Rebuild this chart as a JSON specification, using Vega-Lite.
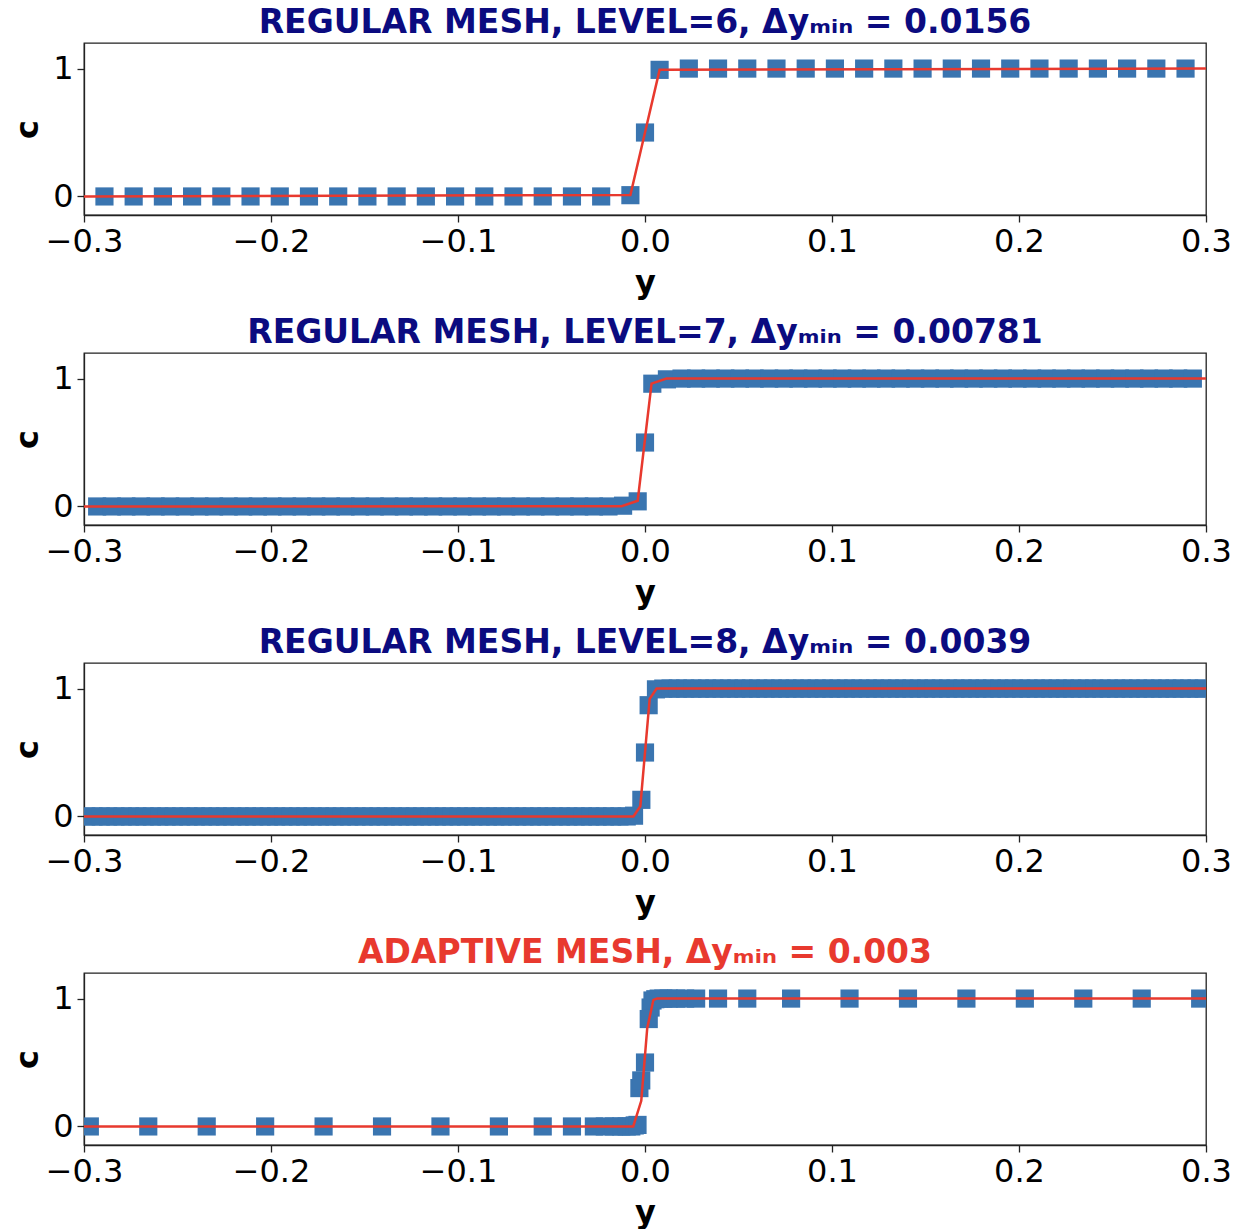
{
"$schema": "https://vega.github.io/schema/vega-lite/v6.json",
"background": "white",
"padding": {"left": 10, "top": 6, "right": 30, "bottom": 0},
"spacing": 17,
"config": {
  "font": "DejaVu Sans",
  "view": {"stroke": "#222", "strokeWidth": 1.3},
  "axis": {"labelFont": "DejaVu Sans", "labelFontSize": 32, "labelColor": "black", "tickColor": "#222", "domainColor": "#222", "tickSize": 7, "tickWidth": 1.3, "domainWidth": 1.3, "grid": false, "titleFont": "DejaVu Sans", "titleFontWeight": "bold", "titleFontSize": 32, "titleColor": "black", "labelFlush": false, "labelOverlap": false},
  "axisX": {"titlePadding": 10, "labelPadding": 4},
  "axisY": {"titlePadding": 8, "labelPadding": 4},
  "title": {"font": "DejaVu Sans", "fontSize": 33, "fontWeight": "bold", "frame": "group", "anchor": "middle", "offset": 3}
},
"datasets": {
"pts": [
{"p":1,"y":-0.28906,"c":0},{"p":1,"y":-0.27344,"c":0},{"p":1,"y":-0.25781,"c":0},{"p":1,"y":-0.24219,"c":0},{"p":1,"y":-0.22656,"c":0},{"p":1,"y":-0.21094,"c":0},{"p":1,"y":-0.19531,"c":0},{"p":1,"y":-0.17969,"c":0},{"p":1,"y":-0.16406,"c":0},{"p":1,"y":-0.14844,"c":0},{"p":1,"y":-0.13281,"c":0},{"p":1,"y":-0.11719,"c":0},{"p":1,"y":-0.10156,"c":0},{"p":1,"y":-0.08594,"c":0},{"p":1,"y":-0.07031,"c":0},{"p":1,"y":-0.05469,"c":0},{"p":1,"y":-0.03906,"c":0},{"p":1,"y":-0.02344,"c":0},{"p":1,"y":-0.00781,"c":0.01},
{"p":1,"y":0,"c":0.5},
{"p":1,"y":0.00781,"c":0.99},{"p":1,"y":0.02344,"c":1},{"p":1,"y":0.03906,"c":1},{"p":1,"y":0.05469,"c":1},{"p":1,"y":0.07031,"c":1},{"p":1,"y":0.08594,"c":1},{"p":1,"y":0.10156,"c":1},{"p":1,"y":0.11719,"c":1},{"p":1,"y":0.13281,"c":1},{"p":1,"y":0.14844,"c":1},{"p":1,"y":0.16406,"c":1},{"p":1,"y":0.17969,"c":1},{"p":1,"y":0.19531,"c":1},{"p":1,"y":0.21094,"c":1},{"p":1,"y":0.22656,"c":1},{"p":1,"y":0.24219,"c":1},{"p":1,"y":0.25781,"c":1},{"p":1,"y":0.27344,"c":1},{"p":1,"y":0.28906,"c":1},

{"p":2,"y":-0.29297,"c":0},{"p":2,"y":-0.28516,"c":0},{"p":2,"y":-0.27734,"c":0},{"p":2,"y":-0.26953,"c":0},{"p":2,"y":-0.26172,"c":0},{"p":2,"y":-0.25391,"c":0},{"p":2,"y":-0.24609,"c":0},{"p":2,"y":-0.23828,"c":0},{"p":2,"y":-0.23047,"c":0},{"p":2,"y":-0.22266,"c":0},{"p":2,"y":-0.21484,"c":0},{"p":2,"y":-0.20703,"c":0},{"p":2,"y":-0.19922,"c":0},{"p":2,"y":-0.19141,"c":0},{"p":2,"y":-0.18359,"c":0},{"p":2,"y":-0.17578,"c":0},{"p":2,"y":-0.16797,"c":0},{"p":2,"y":-0.16016,"c":0},{"p":2,"y":-0.15234,"c":0},{"p":2,"y":-0.14453,"c":0},{"p":2,"y":-0.13672,"c":0},{"p":2,"y":-0.12891,"c":0},{"p":2,"y":-0.12109,"c":0},{"p":2,"y":-0.11328,"c":0},{"p":2,"y":-0.10547,"c":0},{"p":2,"y":-0.09766,"c":0},{"p":2,"y":-0.08984,"c":0},{"p":2,"y":-0.08203,"c":0},{"p":2,"y":-0.07422,"c":0},{"p":2,"y":-0.06641,"c":0},{"p":2,"y":-0.05859,"c":0},{"p":2,"y":-0.05078,"c":0},{"p":2,"y":-0.04297,"c":0},{"p":2,"y":-0.03516,"c":0},{"p":2,"y":-0.02734,"c":0},{"p":2,"y":-0.01953,"c":0},{"p":2,"y":-0.01172,"c":0.006},{"p":2,"y":-0.00391,"c":0.04},
{"p":2,"y":0,"c":0.5},
{"p":2,"y":0.00391,"c":0.96},{"p":2,"y":0.01172,"c":0.994},{"p":2,"y":0.01953,"c":1},{"p":2,"y":0.02734,"c":1},{"p":2,"y":0.03516,"c":1},{"p":2,"y":0.04297,"c":1},{"p":2,"y":0.05078,"c":1},{"p":2,"y":0.05859,"c":1},{"p":2,"y":0.06641,"c":1},{"p":2,"y":0.07422,"c":1},{"p":2,"y":0.08203,"c":1},{"p":2,"y":0.08984,"c":1},{"p":2,"y":0.09766,"c":1},{"p":2,"y":0.10547,"c":1},{"p":2,"y":0.11328,"c":1},{"p":2,"y":0.12109,"c":1},{"p":2,"y":0.12891,"c":1},{"p":2,"y":0.13672,"c":1},{"p":2,"y":0.14453,"c":1},{"p":2,"y":0.15234,"c":1},{"p":2,"y":0.16016,"c":1},{"p":2,"y":0.16797,"c":1},{"p":2,"y":0.17578,"c":1},{"p":2,"y":0.18359,"c":1},{"p":2,"y":0.19141,"c":1},{"p":2,"y":0.19922,"c":1},{"p":2,"y":0.20703,"c":1},{"p":2,"y":0.21484,"c":1},{"p":2,"y":0.22266,"c":1},{"p":2,"y":0.23047,"c":1},{"p":2,"y":0.23828,"c":1},{"p":2,"y":0.24609,"c":1},{"p":2,"y":0.25391,"c":1},{"p":2,"y":0.26172,"c":1},{"p":2,"y":0.26953,"c":1},{"p":2,"y":0.27734,"c":1},{"p":2,"y":0.28516,"c":1},{"p":2,"y":0.29297,"c":1},

{"p":3,"y":-0.29883,"c":0},{"p":3,"y":-0.29492,"c":0},{"p":3,"y":-0.29102,"c":0},{"p":3,"y":-0.28711,"c":0},{"p":3,"y":-0.28320,"c":0},{"p":3,"y":-0.27930,"c":0},{"p":3,"y":-0.27539,"c":0},{"p":3,"y":-0.27148,"c":0},{"p":3,"y":-0.26758,"c":0},{"p":3,"y":-0.26367,"c":0},{"p":3,"y":-0.25977,"c":0},{"p":3,"y":-0.25586,"c":0},{"p":3,"y":-0.25195,"c":0},{"p":3,"y":-0.24805,"c":0},{"p":3,"y":-0.24414,"c":0},{"p":3,"y":-0.24023,"c":0},{"p":3,"y":-0.23633,"c":0},{"p":3,"y":-0.23242,"c":0},{"p":3,"y":-0.22852,"c":0},{"p":3,"y":-0.22461,"c":0},{"p":3,"y":-0.22070,"c":0},{"p":3,"y":-0.21680,"c":0},{"p":3,"y":-0.21289,"c":0},{"p":3,"y":-0.20898,"c":0},{"p":3,"y":-0.20508,"c":0},{"p":3,"y":-0.20117,"c":0},{"p":3,"y":-0.19727,"c":0},{"p":3,"y":-0.19336,"c":0},{"p":3,"y":-0.18945,"c":0},{"p":3,"y":-0.18555,"c":0},{"p":3,"y":-0.18164,"c":0},{"p":3,"y":-0.17773,"c":0},{"p":3,"y":-0.17383,"c":0},{"p":3,"y":-0.16992,"c":0},{"p":3,"y":-0.16602,"c":0},{"p":3,"y":-0.16211,"c":0},{"p":3,"y":-0.15820,"c":0},{"p":3,"y":-0.15430,"c":0},{"p":3,"y":-0.15039,"c":0},{"p":3,"y":-0.14648,"c":0},{"p":3,"y":-0.14258,"c":0},{"p":3,"y":-0.13867,"c":0},{"p":3,"y":-0.13477,"c":0},{"p":3,"y":-0.13086,"c":0},{"p":3,"y":-0.12695,"c":0},{"p":3,"y":-0.12305,"c":0},{"p":3,"y":-0.11914,"c":0},{"p":3,"y":-0.11523,"c":0},{"p":3,"y":-0.11133,"c":0},{"p":3,"y":-0.10742,"c":0},{"p":3,"y":-0.10352,"c":0},{"p":3,"y":-0.09961,"c":0},{"p":3,"y":-0.09570,"c":0},{"p":3,"y":-0.09180,"c":0},{"p":3,"y":-0.08789,"c":0},{"p":3,"y":-0.08398,"c":0},{"p":3,"y":-0.08008,"c":0},{"p":3,"y":-0.07617,"c":0},{"p":3,"y":-0.07227,"c":0},{"p":3,"y":-0.06836,"c":0},{"p":3,"y":-0.06445,"c":0},{"p":3,"y":-0.06055,"c":0},{"p":3,"y":-0.05664,"c":0},{"p":3,"y":-0.05273,"c":0},{"p":3,"y":-0.04883,"c":0},{"p":3,"y":-0.04492,"c":0},{"p":3,"y":-0.04102,"c":0},{"p":3,"y":-0.03711,"c":0},{"p":3,"y":-0.03320,"c":0},{"p":3,"y":-0.02930,"c":0},{"p":3,"y":-0.02539,"c":0},{"p":3,"y":-0.02148,"c":0},{"p":3,"y":-0.01758,"c":0},{"p":3,"y":-0.01367,"c":0},{"p":3,"y":-0.00977,"c":0},{"p":3,"y":-0.00586,"c":0.006},{"p":3,"y":-0.00195,"c":0.13},
{"p":3,"y":0,"c":0.5},
{"p":3,"y":0.00195,"c":0.87},{"p":3,"y":0.00586,"c":0.994},{"p":3,"y":0.00977,"c":1},{"p":3,"y":0.01367,"c":1},{"p":3,"y":0.01758,"c":1},{"p":3,"y":0.02148,"c":1},{"p":3,"y":0.02539,"c":1},{"p":3,"y":0.02930,"c":1},{"p":3,"y":0.03320,"c":1},{"p":3,"y":0.03711,"c":1},{"p":3,"y":0.04102,"c":1},{"p":3,"y":0.04492,"c":1},{"p":3,"y":0.04883,"c":1},{"p":3,"y":0.05273,"c":1},{"p":3,"y":0.05664,"c":1},{"p":3,"y":0.06055,"c":1},{"p":3,"y":0.06445,"c":1},{"p":3,"y":0.06836,"c":1},{"p":3,"y":0.07227,"c":1},{"p":3,"y":0.07617,"c":1},{"p":3,"y":0.08008,"c":1},{"p":3,"y":0.08398,"c":1},{"p":3,"y":0.08789,"c":1},{"p":3,"y":0.09180,"c":1},{"p":3,"y":0.09570,"c":1},{"p":3,"y":0.09961,"c":1},{"p":3,"y":0.10352,"c":1},{"p":3,"y":0.10742,"c":1},{"p":3,"y":0.11133,"c":1},{"p":3,"y":0.11523,"c":1},{"p":3,"y":0.11914,"c":1},{"p":3,"y":0.12305,"c":1},{"p":3,"y":0.12695,"c":1},{"p":3,"y":0.13086,"c":1},{"p":3,"y":0.13477,"c":1},{"p":3,"y":0.13867,"c":1},{"p":3,"y":0.14258,"c":1},{"p":3,"y":0.14648,"c":1},{"p":3,"y":0.15039,"c":1},{"p":3,"y":0.15430,"c":1},{"p":3,"y":0.15820,"c":1},{"p":3,"y":0.16211,"c":1},{"p":3,"y":0.16602,"c":1},{"p":3,"y":0.16992,"c":1},{"p":3,"y":0.17383,"c":1},{"p":3,"y":0.17773,"c":1},{"p":3,"y":0.18164,"c":1},{"p":3,"y":0.18555,"c":1},{"p":3,"y":0.18945,"c":1},{"p":3,"y":0.19336,"c":1},{"p":3,"y":0.19727,"c":1},{"p":3,"y":0.20117,"c":1},{"p":3,"y":0.20508,"c":1},{"p":3,"y":0.20898,"c":1},{"p":3,"y":0.21289,"c":1},{"p":3,"y":0.21680,"c":1},{"p":3,"y":0.22070,"c":1},{"p":3,"y":0.22461,"c":1},{"p":3,"y":0.22852,"c":1},{"p":3,"y":0.23242,"c":1},{"p":3,"y":0.23633,"c":1},{"p":3,"y":0.24023,"c":1},{"p":3,"y":0.24414,"c":1},{"p":3,"y":0.24805,"c":1},{"p":3,"y":0.25195,"c":1},{"p":3,"y":0.25586,"c":1},{"p":3,"y":0.25977,"c":1},{"p":3,"y":0.26367,"c":1},{"p":3,"y":0.26758,"c":1},{"p":3,"y":0.27148,"c":1},{"p":3,"y":0.27539,"c":1},{"p":3,"y":0.27930,"c":1},{"p":3,"y":0.28320,"c":1},{"p":3,"y":0.28711,"c":1},{"p":3,"y":0.29102,"c":1},{"p":3,"y":0.29492,"c":1},{"p":3,"y":0.29883,"c":1},

{"p":4,"y":-0.29688,"c":0},{"p":4,"y":-0.26563,"c":0},{"p":4,"y":-0.23438,"c":0},{"p":4,"y":-0.20313,"c":0},{"p":4,"y":-0.17188,"c":0},{"p":4,"y":-0.14063,"c":0},{"p":4,"y":-0.10938,"c":0},{"p":4,"y":-0.07813,"c":0},{"p":4,"y":-0.05469,"c":0},{"p":4,"y":-0.03906,"c":0},{"p":4,"y":-0.02734,"c":0},{"p":4,"y":-0.02148,"c":0},{"p":4,"y":-0.01660,"c":0},{"p":4,"y":-0.01270,"c":0},{"p":4,"y":-0.00977,"c":0},{"p":4,"y":-0.00732,"c":0},{"p":4,"y":-0.00550,"c":0.008},{"p":4,"y":-0.00400,"c":0.012},{"p":4,"y":-0.00300,"c":0.30},{"p":4,"y":-0.00200,"c":0.36},
{"p":4,"y":0,"c":0.5},
{"p":4,"y":0.00200,"c":0.84},{"p":4,"y":0.00300,"c":0.93},{"p":4,"y":0.00400,"c":0.985},{"p":4,"y":0.00550,"c":0.995},{"p":4,"y":0.00732,"c":1},{"p":4,"y":0.00977,"c":1},{"p":4,"y":0.01270,"c":1},{"p":4,"y":0.01660,"c":1},{"p":4,"y":0.02148,"c":1},{"p":4,"y":0.02734,"c":1},{"p":4,"y":0.03906,"c":1},{"p":4,"y":0.05469,"c":1},{"p":4,"y":0.07813,"c":1},{"p":4,"y":0.10938,"c":1},{"p":4,"y":0.14063,"c":1},{"p":4,"y":0.17188,"c":1},{"p":4,"y":0.20313,"c":1},{"p":4,"y":0.23438,"c":1},{"p":4,"y":0.26563,"c":1},{"p":4,"y":0.29688,"c":1}
],
"ex": [
{"p":1,"y":-0.3,"c":0},{"p":1,"y":-0.00781,"c":0.012},{"p":1,"y":0,"c":0.5},{"p":1,"y":0.00781,"c":0.99},{"p":1,"y":0.3,"c":1},
{"p":2,"y":-0.3,"c":0},{"p":2,"y":-0.0125,"c":0.002},{"p":2,"y":-0.0039,"c":0.045},{"p":2,"y":0.0035,"c":0.96},{"p":2,"y":0.0115,"c":1},{"p":2,"y":0.3,"c":1},
{"p":3,"y":-0.3,"c":0},{"p":3,"y":-0.0062,"c":0},{"p":3,"y":-0.0025,"c":0.08},{"p":3,"y":0.0025,"c":0.92},{"p":3,"y":0.0062,"c":1},{"p":3,"y":0.3,"c":1},
{"p":4,"y":-0.3,"c":0},{"p":4,"y":-0.0063,"c":0},{"p":4,"y":-0.002,"c":0.2},{"p":4,"y":0.0012,"c":0.77},{"p":4,"y":0.0045,"c":0.99},{"p":4,"y":0.0065,"c":1},{"p":4,"y":0.3,"c":1}
]
},
"vconcat": [
{"width": 1122, "height": 172,
 "title": {"text": "REGULAR MESH, LEVEL=6, Δyₘᵢₙ = 0.0156", "color": "#0b0b80"},
 "layer": [
  {"data": {"name": "pts"}, "transform": [{"filter": "datum.p == 1"}], "mark": {"type": "point", "shape": "square", "filled": true, "size": 330, "color": "#3a75b0", "opacity": 1, "clip": true},
   "encoding": {"x": {"field": "y", "type": "quantitative", "scale": {"domain": [-0.3, 0.3], "nice": false, "zero": false}, "axis": {"values": [-0.3,-0.2,-0.1,0,0.1,0.2,0.3], "format": ".1f", "title": "y"}},
                "y": {"field": "c", "type": "quantitative", "scale": {"domain": [-0.145, 1.2], "nice": false, "zero": false}, "axis": {"values": [0,1], "format": "d", "title": "c"}}}},
  {"data": {"name": "ex"}, "transform": [{"filter": "datum.p == 1"}], "mark": {"type": "line", "color": "#e8392e", "strokeWidth": 2.5, "clip": true},
   "encoding": {"x": {"field": "y", "type": "quantitative"}, "y": {"field": "c", "type": "quantitative"}}}
 ]},
{"width": 1122, "height": 172,
 "title": {"text": "REGULAR MESH, LEVEL=7, Δyₘᵢₙ = 0.00781", "color": "#0b0b80"},
 "layer": [
  {"data": {"name": "pts"}, "transform": [{"filter": "datum.p == 2"}], "mark": {"type": "point", "shape": "square", "filled": true, "size": 330, "color": "#3a75b0", "opacity": 1, "clip": true},
   "encoding": {"x": {"field": "y", "type": "quantitative", "scale": {"domain": [-0.3, 0.3], "nice": false, "zero": false}, "axis": {"values": [-0.3,-0.2,-0.1,0,0.1,0.2,0.3], "format": ".1f", "title": "y"}},
                "y": {"field": "c", "type": "quantitative", "scale": {"domain": [-0.145, 1.2], "nice": false, "zero": false}, "axis": {"values": [0,1], "format": "d", "title": "c"}}}},
  {"data": {"name": "ex"}, "transform": [{"filter": "datum.p == 2"}], "mark": {"type": "line", "color": "#e8392e", "strokeWidth": 2.5, "clip": true},
   "encoding": {"x": {"field": "y", "type": "quantitative"}, "y": {"field": "c", "type": "quantitative"}}}
 ]},
{"width": 1122, "height": 172,
 "title": {"text": "REGULAR MESH, LEVEL=8, Δyₘᵢₙ = 0.0039", "color": "#0b0b80"},
 "layer": [
  {"data": {"name": "pts"}, "transform": [{"filter": "datum.p == 3"}], "mark": {"type": "point", "shape": "square", "filled": true, "size": 330, "color": "#3a75b0", "opacity": 1, "clip": true},
   "encoding": {"x": {"field": "y", "type": "quantitative", "scale": {"domain": [-0.3, 0.3], "nice": false, "zero": false}, "axis": {"values": [-0.3,-0.2,-0.1,0,0.1,0.2,0.3], "format": ".1f", "title": "y"}},
                "y": {"field": "c", "type": "quantitative", "scale": {"domain": [-0.145, 1.2], "nice": false, "zero": false}, "axis": {"values": [0,1], "format": "d", "title": "c"}}}},
  {"data": {"name": "ex"}, "transform": [{"filter": "datum.p == 3"}], "mark": {"type": "line", "color": "#e8392e", "strokeWidth": 2.5, "clip": true},
   "encoding": {"x": {"field": "y", "type": "quantitative"}, "y": {"field": "c", "type": "quantitative"}}}
 ]},
{"width": 1122, "height": 172,
 "title": {"text": "ADAPTIVE MESH, Δyₘᵢₙ = 0.003", "color": "#e8392e"},
 "layer": [
  {"data": {"name": "pts"}, "transform": [{"filter": "datum.p == 4"}], "mark": {"type": "point", "shape": "square", "filled": true, "size": 330, "color": "#3a75b0", "opacity": 1, "clip": true},
   "encoding": {"x": {"field": "y", "type": "quantitative", "scale": {"domain": [-0.3, 0.3], "nice": false, "zero": false}, "axis": {"values": [-0.3,-0.2,-0.1,0,0.1,0.2,0.3], "format": ".1f", "title": "y"}},
                "y": {"field": "c", "type": "quantitative", "scale": {"domain": [-0.145, 1.2], "nice": false, "zero": false}, "axis": {"values": [0,1], "format": "d", "title": "c"}}}},
  {"data": {"name": "ex"}, "transform": [{"filter": "datum.p == 4"}], "mark": {"type": "line", "color": "#e8392e", "strokeWidth": 2.5, "clip": true},
   "encoding": {"x": {"field": "y", "type": "quantitative"}, "y": {"field": "c", "type": "quantitative"}}}
 ]}
]
}
